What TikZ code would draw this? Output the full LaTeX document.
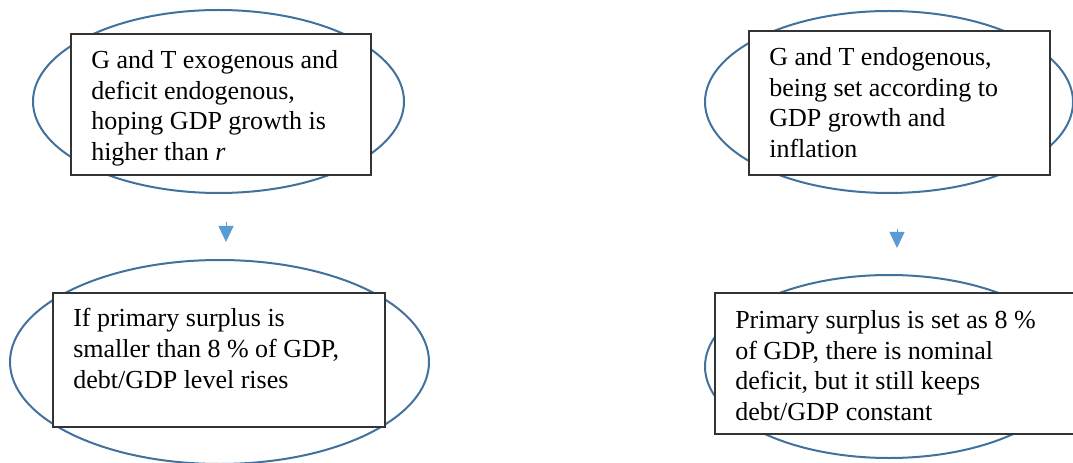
\documentclass[tikz,border=0pt]{standalone}
\usepackage{fontspec}
\setmainfont{Liberation Serif}
\usetikzlibrary{shapes.geometric,arrows.meta}
\definecolor{ellblue}{HTML}{41719C}
\definecolor{arrblue}{HTML}{5B9BD5}
\definecolor{boxline}{HTML}{333333}
\tikzset{
  oval/.style={ellipse,draw=ellblue,line width=1.5pt,inner sep=0pt},
  textbox/.style={rectangle,draw=boxline,fill=white,line width=0.9pt,inner sep=0pt},
  boxtext/.style={anchor=north west,inner sep=0pt,align=left,font=\fontsize{19.5}{23}\selectfont},
  arr/.style={draw=arrblue,line width=0.75pt,-{Triangle[length=12pt,width=11.25pt]}}
}
\begin{document}
\begin{tikzpicture}[x=0.75pt,y=-0.75pt]
\useasboundingbox (0,0) rectangle (1073,463);
% ellipses
\node[oval,minimum width=278.25pt,minimum height=137.25pt] (e1) at (218.5,101.5) {};
\node[oval,minimum width=314.25pt,minimum height=153pt] (e2) at (219.5,362) {};
\node[oval,minimum width=276pt,minimum height=136.5pt] (e3) at (889,102) {};
\node[oval,minimum width=276pt,minimum height=137.25pt] (e4) at (889,366.5) {};
% boxes
\node[textbox,minimum width=225pt,minimum height=105.75pt] (b1) at (221,104.5) {};
\node[textbox,minimum width=249pt,minimum height=100.5pt] (b2) at (219,360) {};
\node[textbox,minimum width=225.75pt,minimum height=108pt] (b3) at (899.5,103) {};
\node[textbox,minimum width=281.25pt,minimum height=105.75pt] (b4) at (902.5,363.5) {};
% texts
\node[boxtext] (t1) at (91,50.2) {G and T exogenous and\\deficit endogenous,\\hoping GDP growth is\\higher than \textit{r}};
\node[boxtext] (t2) at (73,308.2) {If primary surplus is\\smaller than 8 \% of GDP,\\debt/GDP level rises};
\node[boxtext] (t3) at (769,47.2) {G and T endogenous,\\being set according to\\GDP growth and\\inflation};
\node[boxtext] (t4) at (735,310.2) {Primary surplus is set as 8 \%\\of GDP, there is nominal\\deficit, but it still keeps\\debt/GDP constant};
% arrows
\coordinate (a1s) at (226,222);
\coordinate (a1e) at (226,242);
\coordinate (a2s) at (897,229);
\coordinate (a2e) at (897,248);
\draw[arr] (a1s) -- (a1e);
\draw[arr] (a2s) -- (a2e);
\end{tikzpicture}
\end{document}
